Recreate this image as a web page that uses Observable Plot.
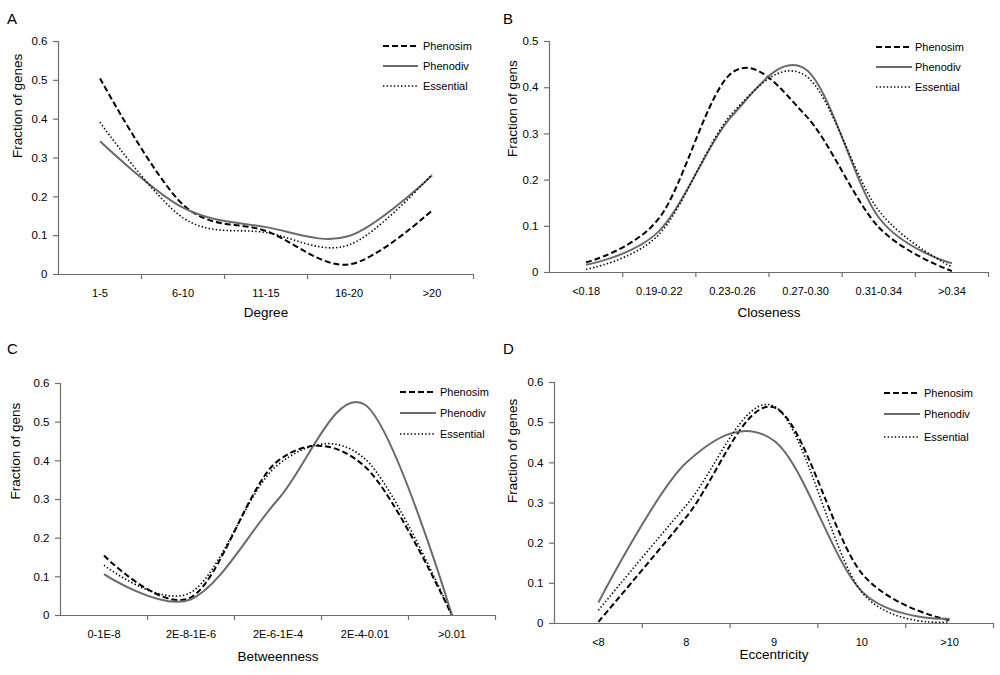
<!DOCTYPE html>
<html>
<head>
<meta charset="utf-8">
<script src="https://cdn.jsdelivr.net/npm/d3@7"></script>
<script src="https://cdn.jsdelivr.net/npm/@observablehq/plot@0.6"></script>
<style>
  body { margin: 0; background: #fff; font-family: "Liberation Sans", Arial, sans-serif; }
  #root { position: relative; width: 1000px; height: 675px; background: #fff; overflow: hidden; }
  .panel { position: absolute; }
  .letter { position: absolute; font-size: 15px; color: #000; line-height: 1; }
  .legend { position: absolute; left: 0; top: 0; pointer-events: none; }
</style>
</head>
<body>
<div id="root"></div>
<script>
// ---------- Data ----------
const seriesNames = ["Phenosim", "Phenodiv", "Essential"];

// Panel A: Degree
const degreeCats = ["1-5", "6-10", "11-15", "16-20", ">20"];
const degreePhenosim  = [0.505, 0.180, 0.112, 0.026, 0.165];
const degreePhenodiv  = [0.343, 0.172, 0.122, 0.099, 0.255];
const degreeEssential = [0.392, 0.146, 0.108, 0.076, 0.258];
const degreeYTicks = [0, 0.1, 0.2, 0.3, 0.4, 0.5, 0.6];

// Panel B: Closeness
const closenessCats = ["<0.18", "0.19-0.22", "0.23-0.26", "0.27-0.30", "0.31-0.34", ">0.34"];
const closenessPhenosim  = [0.022, 0.118, 0.433, 0.340, 0.098, 0.003];
const closenessPhenodiv  = [0.017, 0.090, 0.340, 0.440, 0.119, 0.020];
const closenessEssential = [0.007, 0.083, 0.345, 0.426, 0.134, 0.012];
const closenessYTicks = [0, 0.1, 0.2, 0.3, 0.4, 0.5];

// Panel C: Betweenness
const betweennessCats = ["0-1E-8", "2E-8-1E-6", "2E-6-1E-4", "2E-4-0.01", ">0.01"];
const betweennessPhenosim  = [0.155, 0.047, 0.400, 0.385, 0];
const betweennessPhenodiv  = [0.107, 0.042, 0.300, 0.545, 0];
const betweennessEssential = [0.130, 0.060, 0.390, 0.405, 0];
const betweennessYTicks = [0, 0.1, 0.2, 0.3, 0.4, 0.5, 0.6];

// Panel D: Eccentricity
const eccentricityCats = ["<8", "8", "9", "10", ">10"];
const eccentricityPhenosim  = [0.004, 0.265, 0.538, 0.125, 0.008];
const eccentricityPhenodiv  = [0.052, 0.400, 0.455, 0.080, 0.012];
const eccentricityEssential = [0.033, 0.294, 0.541, 0.078, 0.004];
const eccentricityYTicks = [0, 0.1, 0.2, 0.3, 0.4, 0.5, 0.6];

// ---------- Styles ----------
const axisColor = "#6e6e6e";
const lineStyles = {
  Phenosim:  {stroke: "#000", strokeWidth: 2, dash: "6,3"},
  Phenodiv:  {stroke: "#6a6a6a", strokeWidth: 2, dash: null},
  Essential: {stroke: "#000", strokeWidth: 1.6, dash: "1.4,2.2"}
};
const font = "'Liberation Sans', Arial, sans-serif";

function makePanel(cfg) {
  const root = document.getElementById("root");
  const div = document.createElement("div");
  div.className = "panel";
  div.style.left = cfg.left + "px";
  div.style.top = cfg.top + "px";
  div.style.width = cfg.width + "px";
  div.style.height = cfg.height + "px";
  root.appendChild(div);

  const n = cfg.cats.length;
  const centers = d3.range(n).map(i => i + 0.5);
  const bounds = d3.range(1, n + 1);
  const rows = seriesNames.flatMap((s, si) =>
    cfg.values[si].map((v, i) => ({series: s, cat: cfg.cats[i], idx: i + 0.5, value: v})));

  const lines = seriesNames.map(s => Plot.line(rows.filter(r => r.series === s), {
    x: "idx", y: "value", curve: "cardinal",
    stroke: lineStyles[s].stroke, strokeWidth: lineStyles[s].strokeWidth,
    strokeDasharray: lineStyles[s].dash, strokeLinecap: "butt"
  }));

  const chart = Plot.plot({
    width: cfg.width,
    height: cfg.height,
    marginLeft: cfg.m[0], marginRight: cfg.m[1], marginTop: cfg.m[2], marginBottom: cfg.m[3],
    style: {fontFamily: font, fontSize: "11px", color: "#000", background: "transparent", overflow: "visible"},
    x: {domain: [0, n]},
    y: {domain: [0, d3.max(cfg.yTicks)]},
    marks: [
      ...lines,
      Plot.ruleY([0], {stroke: axisColor, strokeWidth: 1.2}),
      Plot.ruleX([0], {stroke: axisColor, strokeWidth: 1.2}),
      Plot.axisX(bounds, {tickSize: 5, tickFormat: () => "", stroke: axisColor, strokeWidth: 1.2, label: null}),
      Plot.axisX(centers, {tickSize: 0, tickPadding: 15, tickFormat: v => cfg.cats[Math.floor(v)], label: null, fontSize: 11}),
      Plot.axisY(cfg.yTicks, {tickSize: 5, tickPadding: 6, tickFormat: v => String(v), stroke: axisColor, strokeWidth: 1.2, label: null, fontSize: 11.5}),
      Plot.text([cfg.xLabel], {frameAnchor: "bottom", dy: cfg.xLabelDy, fontSize: 13.5, fill: "#000"}),
      Plot.text([cfg.yLabel], {frameAnchor: "left", rotate: -90, dx: cfg.yLabelDx, fontSize: 13.5, fill: "#000"})
    ]
  });
  div.appendChild(chart);

  // legend (top-right)
  const svg = d3.select(div).append("svg")
    .attr("class", "legend")
    .attr("width", cfg.width).attr("height", cfg.height)
    .style("position", "absolute").style("left", "0px").style("top", "0px");
  seriesNames.forEach((s, i) => {
    const y = cfg.legend.ys[i];
    svg.append("line")
      .attr("x1", cfg.legend.x1).attr("x2", cfg.legend.x2)
      .attr("y1", y).attr("y2", y)
      .attr("stroke", lineStyles[s].stroke)
      .attr("stroke-width", lineStyles[s].strokeWidth)
      .attr("stroke-dasharray", lineStyles[s].dash);
    svg.append("text")
      .attr("x", cfg.legend.tx).attr("y", y)
      .attr("dy", "0.35em")
      .attr("font-family", font).attr("font-size", 11)
      .attr("fill", "#000")
      .text(s);
  });

  const letter = document.createElement("div");
  letter.className = "letter";
  letter.textContent = cfg.letter;
  letter.style.left = (cfg.left + cfg.letterPos[0]) + "px";
  letter.style.top = (cfg.top + cfg.letterPos[1]) + "px";
  root.appendChild(letter);
}

makePanel({
  letter: "A", letterPos: [7, 11],
  left: 0, top: 0, width: 500, height: 330, m: [58, 27, 41, 56],
  cats: degreeCats, values: [degreePhenosim, degreePhenodiv, degreeEssential], yTicks: degreeYTicks,
  xLabel: "Degree", xLabelDy: 42, yLabel: "Fraction of genes", yLabelDx: -41,
  legend: {x1: 383, x2: 418, tx: 423, ys: [46, 66, 86]}
});
makePanel({
  letter: "B", letterPos: [3, 11],
  left: 500, top: 0, width: 500, height: 330, m: [49, 12, 41, 58],
  cats: closenessCats, values: [closenessPhenosim, closenessPhenodiv, closenessEssential], yTicks: closenessYTicks,
  xLabel: "Closeness", xLabelDy: 44, yLabel: "Fraction of gens", yLabelDx: -37,
  legend: {x1: 376, x2: 412, tx: 415, ys: [47, 67, 87]}
});
makePanel({
  letter: "C", letterPos: [7, 11],
  left: 0, top: 330, width: 500, height: 345, m: [60, 5, 53, 60],
  cats: betweennessCats, values: [betweennessPhenosim, betweennessPhenodiv, betweennessEssential], yTicks: betweennessYTicks,
  xLabel: "Betweenness", xLabelDy: 45, yLabel: "Fraction of gens", yLabelDx: -45,
  legend: {x1: 400, x2: 436, tx: 440, ys: [62, 83, 104]}
});
makePanel({
  letter: "D", letterPos: [3, 11],
  left: 500, top: 330, width: 500, height: 345, m: [54, 7, 52, 52],
  cats: eccentricityCats, values: [eccentricityPhenosim, eccentricityPhenodiv, eccentricityEssential], yTicks: eccentricityYTicks,
  xLabel: "Eccentricity", xLabelDy: 35, yLabel: "Fraction of genes", yLabelDx: -42,
  legend: {x1: 384, x2: 420, tx: 424, ys: [63, 84, 107]}
});
</script>
</body>
</html>
